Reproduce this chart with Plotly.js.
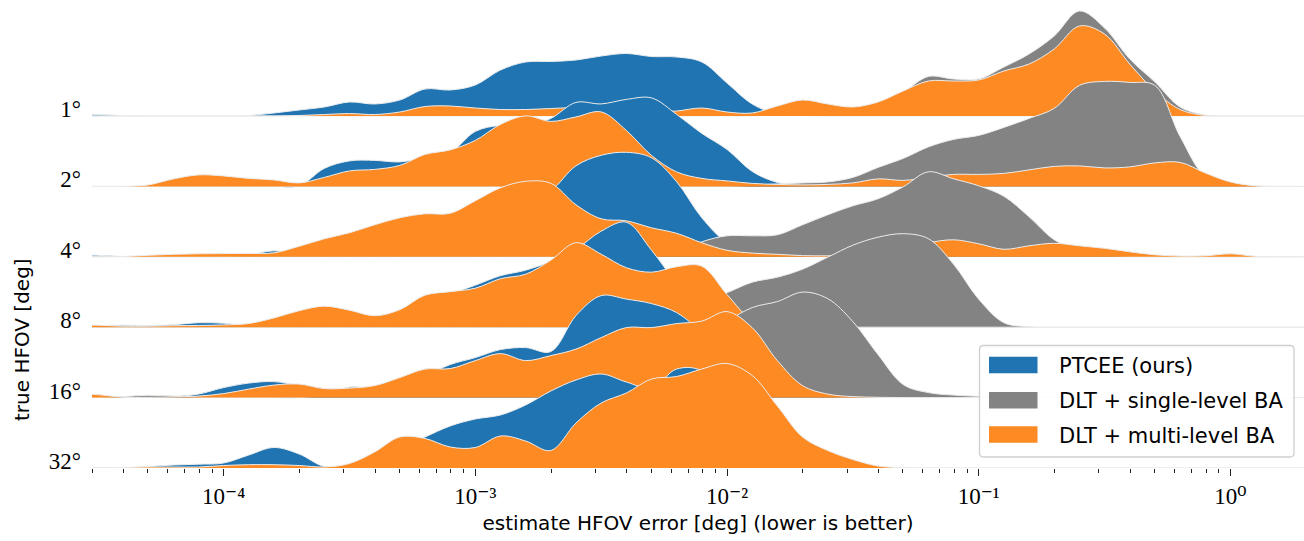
<!DOCTYPE html>
<html>
<head>
<meta charset="utf-8">
<script src="https://cdn.plot.ly/plotly-3.0.1.min.js"></script>
<style>
  html, body { margin: 0; padding: 0; background: #ffffff; }
  #chart { width: 1304px; height: 541px; }
</style>
</head>
<body>
<div id="chart"></div>
<script>
// ---------- data ----------
// x grid: log10 of the HFOV estimate error [deg]
const LOG_ERR = [-4.6,-4.5,-4.4,-4.3,-4.2,-4.1,-4.0,-3.9,-3.8,-3.7,
                 -3.6,-3.5,-3.4,-3.3,-3.2,-3.1,-3.0,-2.9,-2.8,-2.7,
                 -2.6,-2.5,-2.4,-2.3,-2.2,-2.1,-2.0,-1.9,-1.8,-1.7,
                 -1.6,-1.5,-1.4,-1.3,-1.2,-1.1,-1.0,-0.9,-0.8,-0.7,
                 -0.6,-0.5,-0.4,-0.3,-0.2,-0.1,0.0,0.1,0.2,0.3];

const HFOV_LABELS = ['1°', '2°', '4°', '8°', '16°', '32°'];
const METHODS = ['PTCEE (ours)', 'DLT + single-level BA', 'DLT + multi-level BA'];
const X_TICK_VALS = [1e-4, 1e-3, 1e-2, 1e-1, 1];
const X_TICK_TEXT = ['10\u207B\u2074', '10\u207B\u00B3', '10\u207B\u00B2', '10\u207B\u00B9', '10\u2070'];

// kernel density heights (scaled), one array per method and true HFOV
const ptcee1  = [2,1.5,0.5,0,0,0,0,0.5,3,6, 9,14,12,16,27,26,31,46,54,54.5, 56,60,62.5,59.5,59,54,33,12,2,0.5, 0,0,0,0,0,0,0,0,0,0, 0,0,0,0,0,0,0,0,0,0];
const single1 = [0,0,0,0,0,0,0,0,0,0, 0,0,0,0,0,0,0,0,0,0, 0,0,0,0,0,0,0,0,1,3, 5,8,13,24,39.5,37,37,49,62,80, 105,88,57,34,9,1,0,0,0,0];
const multi1  = [0,0,0,0,0,0,0,0,0,0.5, 1.5,2.5,1.5,4,9.5,10,8,6.5,6.5,7.5, 8.5,8,5,4,5,8,4,3,10,16, 12,9,14,25,35,35,36,45,52,67, 90,82,52,25,6.5,0.5,0,0,0,0];

const ptcee2  = [0,0,0,0,0,0,0,0,0,0.5, 18,25.5,26,24.5,29,34,55,61,60,68, 84,82.5,87,88.5,72,53,37,15,4,1, 0,0,0,0,0,0,0,0,0,0, 0,0,0,0,0,0,0,0,0,0];
const single2 = [0,0,0,0,0,0,0,0,0,0, 0,0,0,0,0,0,0,0,0,0, 0,0,0,0,0,0,0,1,2.5,3.5, 4.5,9,19,28,39.5,47,51,59,68,78, 101,105,104,101,50,10,2,0.5,0,0];
const multi2  = [0,0,0,1.5,7.5,11.5,10.5,8,6.5,3.5, 9,15.5,17,21,32,36.5,46,62,70.5,65, 69.5,74.5,56,31,14.5,8,5.5,3,2,1.5, 2,3.5,7.5,6,9,12,12,13,16.5,20, 20.5,18.5,19.5,23.5,24,13.5,4.5,0.5,0,0];

const ptcee4  = [2,1.5,0.3,0,0,0,0,2,6,3, 5,8,12,16,20,25,32,42,55,66, 91,101.5,104.5,99,75,39,14,4,1,0, 0,0,0,0,0,0,0,0,0,0, 0,0,0,0,0,0,0,0,0,0];
const single4 = [0,0,0,0,0,0,0,0,0,0, 0,0,0,0,0,0,0,0,0,0, 0,0,0,0.5,4,15,21,21,22,32, 42,51,58,70,85,78,71,60.5,40,17, 6,2,0.5,0,0,0,0,0,0,0];
const multi4  = [0,0,0.3,1.5,2.5,3,3.2,3.3,4,10.5, 18,24,32,39,43,43.5,56,69,75.5,73.5, 52,38,36,29,23.5,14,6.5,3.7,2.5,1.2, 1,2,4.5,8,14,17,13,7.5,11,13.5, 11,8.5,5,2,0.7,1,3,0.5,0,0];

const ptcee8  = [1,1.5,2,1.7,2.5,4.5,4,2,4,6, 8,8,9,12,22,33,42,51.5,57,66, 78,96,105,77,45,25,10,3,1,0, 0,0,0,0,0,0,0,0,0,0, 0,0,0,0,0,0,0,0,0,0];
const single8 = [0,0,0,0,0,0,0,0,0,0, 0,0,0,0,0,0,0,0,0,0, 0,1,3,8,15,25,34.5,45,50,58, 70,82,90,93.5,88.5,63,28,4.5,0.5,0, 0,0,0,0,0,0,0,0,0,0];
const multi8  = [2,2,1,1,1.5,1.7,2.3,3.7,9.3,16.5, 21,17,11.5,17.5,32,35.5,39,48.5,53,67, 84.5,73,59.5,55,60.5,61,32.7,7,1.5,0.5, 0,0,0,0,0,0,0,0,0,0, 0,0,0,0,0,0,0,0,0,0];

const ptcee16  = [0.5,0.5,0.5,0.5,1,3.5,10,14.5,16,12, 8,7,8,15,22,33,40,48,50,46, 82,102,98.5,94,85,65,40,20,8,3, 1,0,0,0,0,0,0,0,0,0, 0,0,0,0,0,0,0,0,0,0];
const single16 = [0,0,1,2.3,1.5,0.3,0,0,0,0, 3,10.5,9,5,3,2,2,2,2,2, 3,4,6,10,25,45,75,90,96,105.5, 99,76,43,13,5,2.5,1.3,0.7,0.3,0, 0,0,0,0,0,0,0,0,0,0];
const multi16  = [4,3,0.3,0.3,0.6,1.5,4,8.5,12.5,13.5, 9,9.5,12,20,28.5,29,37,44,37,42, 48.5,60,70,70,74,76.5,86,70,37,12, 3.5,1,0.3,0,0,0,0,0,0,0, 0,0,0,0,0,0,0,0,0,0];

const ptcee32  = [0,0,0.3,1.5,3,3.8,5,13,20.5,14, 1.5,2,8,20,31,42,49,53,63,77, 88,94,86,80,99,97,60,30,10,3, 1,0,0,0,0,0,0,0,0,0, 0,0,0,0,0,0,0,0,0,0];
const single32 = [0,0,0,0,0,0,0,0,0,0, 0,0,0,0,0,0,0,0,0,0, 0,0,0,0,0,0,0,0,0,0, 0,0,0,0,0,0,0,0,0,0, 0,0,0,0,0,0,0,0,0,0];
const multi32  = [0,0.3,0.5,1,1,1,2.5,3.3,3.3,2.5, 1,4.5,16,31,29.5,21,20.5,32,27,17.5, 45,65,75,89,91.5,99,104.5,92.5,62,31, 17.5,8.5,2,0.3,0,0,0,0,0,0, 0,0,0,0,0,0,0,0,0,0];

// ---------- styling ----------
const COLORS = ['#1f74b1', '#838383', '#fd8a22'];
const EDGE = '#ececec';
const ROW_GAP = 70.4;           // vertical offset between ridges (density units)
const PLOT_L = 92, PLOT_W = 1212, PLOT_H = 468;
const DECADE_PX = 251.7;
const X_MIN_LOG = Math.log10(3e-5);
const X_MAX_LOG = X_MIN_LOG + PLOT_W / DECADE_PX;
const SERIF = 'Liberation Serif, DejaVu Serif, serif';
const SANS = 'DejaVu Sans, sans-serif';

const ROWS = [
  [ptcee1, single1, multi1],
  [ptcee2, single2, multi2],
  [ptcee4, single4, multi4],
  [ptcee8, single8, multi8],
  [ptcee16, single16, multi16],
  [ptcee32, single32, multi32]
];

const xs = LOG_ERR.map(l => Math.pow(10, l));
const traces = [];
const annotations = [];
const baselines = [];
ROWS.forEach((series, r) => {
  const base = (ROWS.length - 1 - r) * ROW_GAP;
  baselines.push(base);
  series.forEach((vals, s) => {
    traces.push({
      x: xs, y: xs.map(() => base), type: 'scatter', mode: 'lines',
      line: { width: 0, color: 'rgba(0,0,0,0)' }, hoverinfo: 'skip', showlegend: false
    });
    traces.push({
      x: xs, y: vals.map(v => base + v), type: 'scatter', mode: 'lines',
      name: METHODS[s], fill: 'tonexty', fillcolor: COLORS[s],
      line: { color: EDGE, width: 1, shape: 'spline', smoothing: 1 },
      hoverinfo: 'skip', showlegend: false
    });
  });
});

// y-axis title
annotations.push({
  xref: 'paper', yref: 'paper', x: (22 - PLOT_L) / PLOT_W, y: (PLOT_H - 340) / PLOT_H,
  xanchor: 'center', yanchor: 'middle', textangle: -90, showarrow: false,
  text: 'true HFOV [deg]', font: { family: SANS, size: 20, color: '#000' }
});

// legend (drawn manually to reproduce the large patches)
const px = v => (v - PLOT_L) / PLOT_W;
const py = v => (PLOT_H - v) / PLOT_H;
const shapes = [];
(function () {
  const x0 = 979.5, x1 = 1294, t = 345.5, b = 457, r = 4;
  const P = (x, y) => px(x).toFixed(5) + ',' + py(y).toFixed(5);
  const path = 'M' + P(x0 + r, t) + ' L' + P(x1 - r, t) + ' Q' + P(x1, t) + ' ' + P(x1, t + r) +
    ' L' + P(x1, b - r) + ' Q' + P(x1, b) + ' ' + P(x1 - r, b) +
    ' L' + P(x0 + r, b) + ' Q' + P(x0, b) + ' ' + P(x0, b - r) +
    ' L' + P(x0, t + r) + ' Q' + P(x0, t) + ' ' + P(x0 + r, t) + ' Z';
  shapes.push({ type: 'path', xref: 'paper', yref: 'paper', path: path,
    fillcolor: 'rgba(255,255,255,0.85)', line: { color: '#cfcfcf', width: 1.3 }, layer: 'above' });
  const centers = [365, 400.3, 434.5];
  METHODS.forEach((m, i) => {
    shapes.push({ type: 'rect', xref: 'paper', yref: 'paper',
      x0: px(989), x1: px(1037.5), y0: py(centers[i] + 8.3), y1: py(centers[i] - 8.3),
      fillcolor: COLORS[i], line: { width: 0 }, layer: 'above' });
    annotations.push({ xref: 'paper', yref: 'paper', x: px(1057), y: py(centers[i] + 1),
      xanchor: 'left', yanchor: 'middle', showarrow: false, text: m,
      font: { family: SANS, size: 21, color: '#000' } });
  });
})();

const minorTicks = [];
for (let e = -5; e <= 0; e++) {
  for (let m = 2; m <= 9; m++) minorTicks.push(m * Math.pow(10, e));
}

const layout = {
  width: 1304, height: 541,
  margin: { l: PLOT_L, r: 0, t: 0, b: 541 - PLOT_H, pad: 0 },
  paper_bgcolor: '#ffffff', plot_bgcolor: '#ffffff',
  showlegend: false,
  xaxis: {
    type: 'log', range: [X_MIN_LOG, X_MAX_LOG],
    tickmode: 'array', tickvals: X_TICK_VALS, ticktext: X_TICK_TEXT,
    ticks: 'outside', ticklen: 7, tickwidth: 1, tickcolor: '#222',
    tickfont: { family: SERIF, size: 23, color: '#000' },
    minor: { tickmode: 'array', tickvals: minorTicks, ticks: 'outside', ticklen: 4, tickwidth: 1, tickcolor: '#222', showgrid: false },
    showgrid: false, zeroline: false, showline: false, automargin: false,
    title: { text: 'estimate HFOV error [deg] (lower is better)', standoff: 8,
             font: { family: SANS, size: 20, color: '#000' } }
  },
  yaxis: {
    range: [0, PLOT_H], showgrid: false, zeroline: false, showline: false,
    tickmode: 'array', tickvals: baselines, ticktext: HFOV_LABELS,
    ticks: '', ticklabelshift: -7, ticklabelstandoff: 10,
    tickfont: { family: SERIF, size: 23, color: '#000' },
    automargin: false, fixedrange: true
  },
  shapes: shapes,
  annotations: annotations
};

Plotly.newPlot('chart', traces, layout, { displayModeBar: false, staticPlot: true });
</script>
</body>
</html>
